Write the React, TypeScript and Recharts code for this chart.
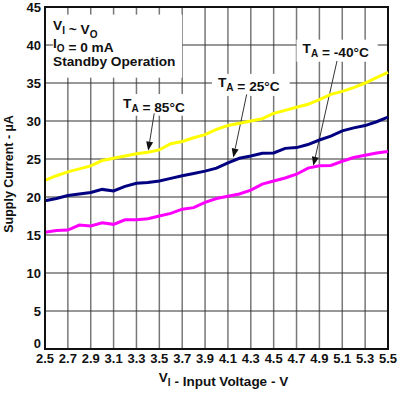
import {
  LineChart,
  Line,
  XAxis,
  YAxis,
  CartesianGrid,
  ReferenceArea,
  ReferenceLine,
} from "recharts";

const voltage = [
  2.5, 2.6, 2.7, 2.8, 2.9, 3.0, 3.1, 3.2, 3.3, 3.4, 3.5, 3.6, 3.7, 3.8, 3.9, 4.0,
  4.1, 4.2, 4.3, 4.4, 4.5, 4.6, 4.7, 4.8, 4.9, 5.0, 5.1, 5.2, 5.3, 5.4, 5.5,
];

// T_A = 85°C
const current85 = [
  22.2, 22.8, 23.3, 23.7, 24.1, 24.8, 25.1, 25.4, 25.7, 25.9, 26.2, 27.0, 27.3,
  27.8, 28.2, 28.9, 29.4, 29.7, 30.0, 30.3, 31.0, 31.4, 31.8, 32.2, 32.8, 33.5,
  33.9, 34.4, 35.0, 35.7, 36.4,
];

// T_A = 25°C
const current25 = [
  19.5, 19.8, 20.2, 20.4, 20.6, 21.0, 20.8, 21.4, 21.8, 21.9, 22.1, 22.45, 22.8,
  23.1, 23.4, 23.8, 24.5, 25.1, 25.4, 25.75, 25.8, 26.4, 26.5, 26.9, 27.5, 28.0,
  28.7, 29.1, 29.4, 29.9, 30.5,
];

// T_A = -40°C
const currentMinus40 = [
  15.35, 15.6, 15.65, 16.3, 16.2, 16.6, 16.4, 17.0, 17.0, 17.15, 17.5, 17.85,
  18.4, 18.6, 19.3, 19.8, 20.1, 20.4, 20.9, 21.7, 22.1, 22.5, 23.0, 23.8, 24.1,
  24.15, 24.7, 25.2, 25.5, 25.8, 26.0,
];

const xTicks = [2.5, 2.7, 2.9, 3.1, 3.3, 3.5, 3.7, 3.9, 4.1, 4.3, 4.5, 4.7, 4.9, 5.1, 5.3, 5.5];
const yTicks = [0, 5, 10, 15, 20, 25, 30, 35, 40, 45];

const data = voltage.map((v, i) => ({
  v,
  t85: current85[i],
  t25: current25[i],
  tm40: currentMinus40[i],
}));

const FONT = "'Liberation Sans', Arial, Helvetica, sans-serif";

function Sub({ s }: { s: string }) {
  return (
    <>
      <tspan dy={4} fontSize={10}>
        {s}
      </tspan>
      <tspan dy={-4}></tspan>
    </>
  );
}

function TempLabel(temp: string) {
  return (props: any) => {
    const { x, y, width, height } = props;
    return (
      <g>
        <rect x={x} y={y} width={width} height={height} fill="#fff" />
        <text x={x + 6} y={y + 13.5} fontFamily={FONT} fontWeight="bold" fontSize={13.7} fill="#111">
          T<Sub s="A" />
          <tspan>{` = ${temp}`}</tspan>
        </text>
      </g>
    );
  };
}

function ConditionsBox(props: any) {
  const { x, y, width, height } = props;
  return (
    <g fontFamily={FONT} fontWeight="bold" fontSize={13.7} fill="#111">
      <rect x={x} y={y} width={width} height={height} fill="#fff" />
      <text x={x} y={y + 15}>
        V<Sub s="I" />
        <tspan>{" ~ V"}</tspan>
        <Sub s="O" />
      </text>
      <text x={x} y={y + 33}>
        I<Sub s="O" />
        <tspan>{" = 0 mA"}</tspan>
      </text>
      <text x={x} y={y + 51}>Standby Operation</text>
    </g>
  );
}

function Arrow(props: any) {
  const { x1, y1, x2, y2 } = props;
  const ang = Math.atan2(y2 - y1, x2 - x1);
  const len = 9;
  const half = 3.5;
  const bx = x2 - len * Math.cos(ang);
  const by = y2 - len * Math.sin(ang);
  const px = -Math.sin(ang) * half;
  const py = Math.cos(ang) * half;
  return (
    <g>
      <line x1={x1} y1={y1} x2={bx} y2={by} stroke="#333" strokeWidth={1} />
      <polygon points={`${x2},${y2} ${bx + px},${by + py} ${bx - px},${by - py}`} fill="#111" />
    </g>
  );
}

function YLabel(props: any) {
  const { viewBox } = props;
  const cx = viewBox.x + 13;
  const cy = viewBox.y + viewBox.height / 2 - 4;
  return (
    <text
      x={cx}
      y={cy}
      transform={`rotate(-90, ${cx}, ${cy})`}
      textAnchor="middle"
      fontFamily={FONT}
      fontWeight="bold"
      fontSize={12.5}
      fill="#111"
    >
      Supply Current - µA
    </text>
  );
}

function XLabel(props: any) {
  const { viewBox } = props;
  const cx = viewBox.x + viewBox.width / 2 + 7;
  const cy = viewBox.y + 33;
  return (
    <text x={cx} y={cy} textAnchor="middle" fontFamily={FONT} fontWeight="bold" fontSize={13.5} fill="#111">
      V<Sub s="I" />
      <tspan>{" - Input Voltage - V"}</tspan>
    </text>
  );
}

function YTick(props: any) {
  const { x, y, payload } = props;
  // the bottom label sits a little higher so it clears the x tick labels
  const shift = payload.value === 0 ? -6 : 0;
  return (
    <text
      x={x}
      y={y + shift + 4.6}
      textAnchor="end"
      fontFamily={FONT}
      fontWeight="bold"
      fontSize={13}
      fill="#111"
    >
      {payload.value}
    </text>
  );
}

const tickStyle = { fontFamily: FONT, fontWeight: "bold", fontSize: 13, fill: "#111" };

export default function App() {
  return (
    <div style={{ position: "absolute", left: 0, top: 0, background: "#fff" }}>
      <LineChart
        width={398}
        height={395}
        data={data}
        margin={{ top: 7, right: 10, bottom: 0, left: 0 }}
      >
        <CartesianGrid horizontal={false} stroke="#787878" strokeWidth={1.5} />
        <CartesianGrid vertical={false} stroke="#333" strokeWidth={1.2} />
        <XAxis
          dataKey="v"
          type="number"
          domain={[2.5, 5.5]}
          ticks={xTicks}
          interval={0}
          height={46}
          tickLine={false}
          tickSize={0}
          tickMargin={5}
          axisLine={{ stroke: "#111", strokeWidth: 2 }}
          tick={tickStyle}
          tickFormatter={(t: number) => t.toFixed(1)}
          label={<XLabel />}
        />
        <YAxis
          type="number"
          domain={[0, 45]}
          ticks={yTicks}
          interval={0}
          width={45}
          tickLine={false}
          tickSize={0}
          tickMargin={4}
          axisLine={{ stroke: "#111", strokeWidth: 2 }}
          tick={<YTick />}
          label={<YLabel />}
        />
        <ReferenceArea x1={2.5} x2={5.5} y1={0} y2={45} fill="none" stroke="#111" strokeWidth={2} fillOpacity={0} />
        <ReferenceArea x1={2.57} x2={3.7} y1={35.7} y2={44.0} shape={ConditionsBox} />
        <ReferenceArea x1={3.13} x2={3.79} y1={30.7} y2={33.55} shape={TempLabel("85°C")} />
        <ReferenceArea x1={3.96} x2={4.64} y1={33.3} y2={36.2} shape={TempLabel("25°C")} />
        <ReferenceArea x1={4.7} x2={5.41} y1={37.8} y2={40.7} shape={TempLabel("-40°C")} />
        <ReferenceLine segment={[{ x: 3.455, y: 31.0 }, { x: 3.403, y: 26.1 }]} shape={Arrow} />
        <ReferenceLine segment={[{ x: 4.264, y: 33.5 }, { x: 4.147, y: 25.2 }]} shape={Arrow} />
        <ReferenceLine segment={[{ x: 5.054, y: 37.9 }, { x: 4.847, y: 24.1 }]} shape={Arrow} />
        <Line type="linear" dataKey="t85" stroke="#ffff00" strokeWidth={3} dot={false} isAnimationActive={false} />
        <Line type="linear" dataKey="t25" stroke="#000080" strokeWidth={3} dot={false} isAnimationActive={false} />
        <Line type="linear" dataKey="tm40" stroke="#ff00ff" strokeWidth={3} dot={false} isAnimationActive={false} />
      </LineChart>
    </div>
  );
}
